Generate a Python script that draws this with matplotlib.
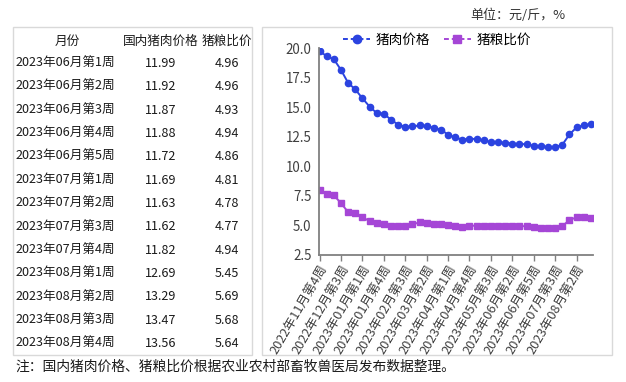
import matplotlib
matplotlib.use("Agg")
import matplotlib.pyplot as plt
from matplotlib.patches import Rectangle
from matplotlib.lines import Line2D

plt.rcParams['font.family'] = ['Noto Sans CJK SC', 'DejaVu Sans']

# ---- table data ----
table_header = ["月份", "国内猪肉价格", "猪粮比价"]
table_weeks = ["2023年06月第1周", "2023年06月第2周", "2023年06月第3周", "2023年06月第4周",
               "2023年06月第5周", "2023年07月第1周", "2023年07月第2周", "2023年07月第3周",
               "2023年07月第4周", "2023年08月第1周", "2023年08月第2周", "2023年08月第3周",
               "2023年08月第4周"]
table_price = ["11.99", "11.92", "11.87", "11.88", "11.72", "11.69", "11.63", "11.62",
               "11.82", "12.69", "13.29", "13.47", "13.56"]
table_ratio = ["4.96", "4.96", "4.93", "4.94", "4.86", "4.81", "4.78", "4.77",
               "4.94", "5.45", "5.69", "5.68", "5.64"]

# ---- chart data (weekly, 2022年11月第4周 .. 2023年08月第4周) ----
pork_price = [19.75, 19.3, 19.05, 18.15, 17.05, 16.5, 15.75, 15.05, 14.5, 14.45, 13.93,
              13.53, 13.33, 13.37, 13.45, 13.42, 13.24, 13.1, 12.67, 12.44, 12.25, 12.33,
              12.3, 12.19, 12.06, 12.02, 11.99, 11.92, 11.87, 11.88, 11.72, 11.69, 11.63,
              11.62, 11.82, 12.69, 13.29, 13.47, 13.56]
hog_grain_ratio = [8.02, 7.63, 7.55, 6.88, 6.13, 6.08, 5.7, 5.36, 5.19, 5.14, 4.94, 4.92,
                   4.97, 5.1, 5.25, 5.23, 5.13, 5.08, 5.0, 4.92, 4.83, 4.98, 4.97, 4.96,
                   4.96, 4.96, 4.96, 4.96, 4.93, 4.94, 4.86, 4.81, 4.78, 4.77, 4.94, 5.45,
                   5.69, 5.68, 5.64]
tick_labels = ["2022年11月第4周", "2022年12月第3周", "2023年01月第1周", "2023年01月第4周",
               "2023年02月第3周", "2023年03月第2周", "2023年04月第1周", "2023年04月第4周",
               "2023年05月第3周", "2023年06月第2周", "2023年06月第5周", "2023年07月第3周",
               "2023年08月第2周"]
series_names = ["猪肉价格", "猪粮比价"]
y_ticks = [2.5, 5.0, 7.5, 10.0, 12.5, 15.0, 17.5, 20.0]

W, H = 626, 382
fig = plt.figure(figsize=(W / 100, H / 100), dpi=100)

def fx(px):
    return px / W

def fy(py):
    return 1 - py / H

# ---- table ----
fig.patches.append(Rectangle((fx(13), fy(355)), fx(252 - 13), fy(27) - fy(355),
                             transform=fig.transFigure, fill=False,
                             edgecolor='#d9d9d9', linewidth=1.0))
txt_color = '#1a1a1a'
fs_tab = 9.1
hy = 41
fig.text(fx(67), fy(hy), table_header[0], ha='center', va='center', fontsize=fs_tab, color=txt_color)
fig.text(fx(161), fy(hy), table_header[1], ha='center', va='center', fontsize=fs_tab, color=txt_color)
fig.text(fx(227), fy(hy), table_header[2], ha='center', va='center', fontsize=fs_tab, color=txt_color)
for i, (w, p, r) in enumerate(zip(table_weeks, table_price, table_ratio)):
    yy = 63.5 + i * 23.35
    fig.text(fx(16), fy(yy), w, ha='left', va='center', fontsize=fs_tab, color=txt_color)
    fig.text(fx(161), fy(yy), p, ha='center', va='center', fontsize=fs_tab, color=txt_color)
    fig.text(fx(227), fy(yy), r, ha='center', va='center', fontsize=fs_tab, color=txt_color)

# ---- chart frame ----
fig.patches.append(Rectangle((fx(262), fy(355)), fx(612 - 262), fy(27) - fy(355),
                             transform=fig.transFigure, fill=False,
                             edgecolor='#d9d9d9', linewidth=1.0))
fig.text(fx(470), fy(15), "单位：元/斤，%", ha='left', va='center', fontsize=9.4, color='#333333')

ax = fig.add_axes([fx(318.5), fy(255), fx(593 - 318.5), fy(48) - fy(255)])
x = list(range(len(pork_price)))
blue = '#2b43e0'
purple = '#a546d6'
ax.plot(x, pork_price, color=blue, linewidth=1.4, marker='o', markersize=4.5,
        label=series_names[0])
ax.plot(x, hog_grain_ratio, color=purple, linewidth=1.4, marker='s', markersize=4,
        label=series_names[1])
ax.set_xlim(-0.15, 38.3)
ax.set_ylim(2.5, 20.0)
ax.set_yticks(y_ticks)
ax.set_yticklabels([f"{v:.1f}" for v in y_ticks], fontsize=9.6, color='#404040')
ax.tick_params(axis='y', length=0, pad=5)
ax.set_xticks(list(range(0, len(pork_price), 3)))
ax.set_xticklabels(tick_labels, rotation=60, ha='right', rotation_mode='anchor',
                   fontsize=9.2, color='#404040')
ax.tick_params(axis='x', length=4, width=1, color='#808080', pad=2)
for s in ['top', 'right']:
    ax.spines[s].set_visible(False)
for s in ['left', 'bottom']:
    ax.spines[s].set_color('#808080')
    ax.spines[s].set_linewidth(1.3)

handles = [Line2D([], [], color=blue, linestyle=(0, (2.5, 1.5)), linewidth=1.4, marker='o', markersize=6),
           Line2D([], [], color=purple, linestyle=(0, (2.5, 1.5)), linewidth=1.4, marker='s', markersize=6)]
fig.legend(handles, series_names, loc='center', bbox_to_anchor=(fx(437), fy(40)), ncol=2,
           frameon=False, fontsize=9.8, handlelength=2.0, columnspacing=1.0, handletextpad=0.4)

fig.text(fx(15), fy(367), "注：国内猪肉价格、猪粮比价根据农业农村部畜牧兽医局发布数据整理。",
         ha='left', va='center', fontsize=9.95, color='#1a1a1a')

fig.savefig("out.png", dpi=100)
